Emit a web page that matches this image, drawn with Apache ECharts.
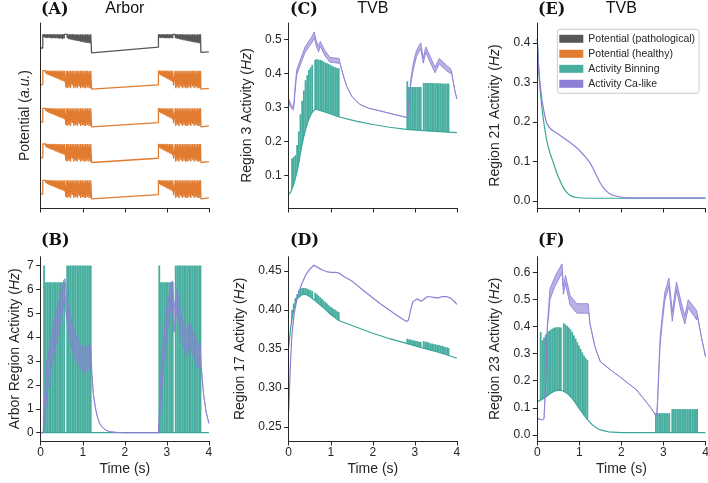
<!DOCTYPE html>
<html>
<head>
<meta charset="utf-8">
<script src="https://cdn.jsdelivr.net/npm/echarts@6/dist/echarts.min.js"></script>
<style>
  html, body { margin: 0; padding: 0; background: #fff; }
  #chart { width: 708px; height: 483px; }
</style>
</head>
<body>
<div id="chart"></div>
<script>
const GRAY = '#575757';
const ORANGE = '#e07b2f';
const TEAL = '#38a797';
const PURPLE = '#8c7fd5';
const INK = '#262626';
const SANS = '"Liberation Sans", Arial, sans-serif';
const SERIF = '"DejaVu Serif", "Liberation Serif", serif';

// spike times (s), shared by all panels
const SPK_1A = [0.08, 0.12, 0.16, 0.20, 0.24, 0.28, 0.32, 0.36, 0.40, 0.44, 0.48, 0.52, 0.56];
const SPK_1B = [0.63, 0.67, 0.71, 0.75, 0.79, 0.83, 0.87, 0.91, 0.95, 0.99, 1.03, 1.07, 1.11, 1.15, 1.19];
const SPK_2A = [2.82, 2.86, 2.90, 2.94, 2.98, 3.02, 3.06, 3.10, 3.14];
const SPK_2B = [3.21, 3.25, 3.29, 3.33, 3.37, 3.41, 3.45, 3.49, 3.53, 3.57, 3.61, 3.65, 3.69, 3.73, 3.77, 3.80];

// (A) potential traces, a.u. (1 = plateau top)
const POT_TOP = 1;
const PATH_PRE = [[0, 0.26], [0.05, 0.26], [0.05, 1]];
const PATH_D_1A = [0.85, 0.82, 0.8, 0.82, 0.8, 0.78, 0.8, 0.78, 0.8, 0.76, 0.78, 0.75, 0.78];
const PATH_D_1B = [0.8, 0.75, 0.72, 0.7, 0.68, 0.66, 0.64, 0.62, 0.6, 0.58, 0.56, 0.55, 0.53, 0.52, 0.5];
const PATH_MID = [[1.2, 1], [1.21, 0], [2.8, 0.31], [2.8, 1]];
const PATH_D_2A = [0.82, 0.8, 0.82, 0.8, 0.78, 0.8, 0.78, 0.8, 0.78];
const PATH_NOTCH = [[3.17, 1], [3.19, 1]];
const PATH_D_2B = [0.8, 0.76, 0.74, 0.72, 0.7, 0.68, 0.66, 0.64, 0.62, 0.6, 0.58, 0.56, 0.55, 0.53, 0.52, 0.5];
const PATH_POST = [[3.8, 1], [3.81, 0.02], [4, 0.05]];

const HEAL_PRE = [[0, 0.25], [0.05, 0.25], [0.05, 1]];
const HEAL_D_1A = [0.9, 0.85, 0.8, 0.76, 0.72, 0.68, 0.64, 0.6, 0.56, 0.52, 0.48, 0.45, 0.42];
const HEAL_GAP = [[0.59, 1], [0.6, 0.1], [0.61, 1]];
const HEAL_D_1B = [0.05, 0.1, 0.05, 0.2, 0.05, 0.1, 0.05, 0.15, 0.05, 0.1, 0.05, 0.05, 0.1, 0.05, 0.05];
const HEAL_MID = [[1.2, 1], [1.21, 0], [2.8, 0.23], [2.8, 1]];
const HEAL_D_2A = [0.8, 0.75, 0.7, 0.65, 0.6, 0.55, 0.5, 0.45, 0.4];
const HEAL_NOTCH = [[3.15, 1], [3.16, 0.2], [3.19, 0.2], [3.2, 1]];
const HEAL_D_2B = [0.05, 0.1, 0.05, 0.15, 0.05, 0.1, 0.05, 0.05, 0.1, 0.05, 0.15, 0.05, 0.1, 0.05, 0.05, 0.1];
const HEAL_POST = [[3.8, 1], [3.81, 0], [4, 0.05]];

// (B) arbor region activity
const B_TICKS = [0, 1, 2, 3, 4, 5, 6, 7];
const B_BASE = [[0, 0], [4, 0]];
const B_PK_1A = [7, 6.3, 6.3, 6.3, 6.3, 6.3, 6.3, 6.3, 6.3, 6.3, 6.3, 6.3, 6.3];
const B_PK_1B = [7, 7, 7, 7, 7, 7, 7, 7, 7, 7, 7, 7, 7, 7, 7];
const B_PK_2A = [7, 6.3, 6.3, 6.3, 6.3, 6.3, 6.3, 6.3, 6.3];
const B_PK_2B = [7, 7, 7, 7, 7, 7, 7, 7, 7, 7, 7, 7, 7, 7, 7, 7];
// [t, low, high]
const B_CA = [[0, 0, 0], [0.06, 0, 0], [0.07, 0.3, 0.8], [0.1, 0.6, 1.6], [0.14, 1.5, 2.9], [0.22, 2.4, 3.7],
  [0.34, 3.5, 4.8], [0.46, 4.5, 5.7], [0.55, 5.4, 6.4], [0.58, 5.7, 6.45], [0.6, 5.0, 6.0], [0.66, 4.2, 5.3],
  [0.78, 3.3, 4.3], [0.94, 2.7, 3.7], [1.05, 2.5, 3.5], [1.17, 2.8, 3.7], [1.2, 2.6, 3.4], [1.22, 2.4, 2.4],
  [1.25, 1.65, 1.65], [1.3, 1.05, 1.05], [1.35, 0.65, 0.65], [1.4, 0.4, 0.4], [1.45, 0.25, 0.25],
  [1.55, 0.1, 0.1], [1.65, 0.04, 0.04], [1.8, 0.01, 0.01], [2.0, 0, 0], [2.8, 0, 0], [2.82, 0.3, 0.8],
  [2.86, 1.4, 2.6], [2.92, 2.7, 3.9], [3.0, 4.1, 5.2], [3.1, 5.3, 6.3], [3.13, 5.5, 6.35], [3.17, 4.2, 5.2],
  [3.24, 5.2, 6.0], [3.3, 4.4, 5.3], [3.36, 3.8, 4.8], [3.48, 3.2, 4.2], [3.55, 3.7, 4.6], [3.62, 3.3, 4.2],
  [3.71, 2.8, 3.8], [3.79, 2.7, 3.7], [3.82, 2.7, 2.7], [3.87, 1.65, 1.65], [3.93, 0.9, 0.9], [4.0, 0.39, 0.39]];

// (C) region 3
const C_TICKS = [0.1, 0.2, 0.3, 0.4, 0.5];
const C_BASE = [[0, 0.045], [0.05, 0.052], [0.1, 0.068], [0.15, 0.088], [0.2, 0.112], [0.25, 0.145], [0.3, 0.18],
  [0.35, 0.21], [0.4, 0.235], [0.45, 0.256], [0.5, 0.272], [0.55, 0.284], [0.6, 0.292], [0.65, 0.295],
  [0.8, 0.289], [1.0, 0.281], [1.2, 0.272], [1.6, 0.26], [2.0, 0.25], [2.4, 0.242], [2.8, 0.236],
  [3.2, 0.232], [3.6, 0.229], [4.0, 0.226]];
const C_PK_1A = [0.15, 0.155, 0.16, 0.19, 0.23, 0.28, 0.32, 0.35, 0.38, 0.395, 0.41, 0.418, 0.425];
const C_PK_1B = [0.44, 0.442, 0.44, 0.44, 0.438, 0.435, 0.432, 0.43, 0.428, 0.425, 0.422, 0.42, 0.418, 0.416, 0.415];
const C_PK_2A = [0.377, 0.36, 0.36, 0.36, 0.36, 0.36, 0.36, 0.36, 0.36];
const C_PK_2B = [0.372, 0.372, 0.372, 0.372, 0.372, 0.372, 0.371, 0.371, 0.371, 0.371, 0.371, 0.37, 0.37, 0.37, 0.37, 0.37];
const C_CA = [[0, 0.315, 0.325], [0.05, 0.3, 0.31], [0.11, 0.293, 0.3], [0.13, 0.31, 0.32], [0.15, 0.345, 0.36],
  [0.19, 0.395, 0.41], [0.27, 0.423, 0.438], [0.39, 0.462, 0.478], [0.55, 0.49, 0.508], [0.61, 0.505, 0.522],
  [0.65, 0.482, 0.498], [0.71, 0.463, 0.478], [0.75, 0.48, 0.494], [0.86, 0.452, 0.467], [0.98, 0.433, 0.447],
  [1.2, 0.43, 0.444], [1.22, 0.43, 0.43], [1.26, 0.411, 0.411], [1.32, 0.385, 0.385], [1.38, 0.362, 0.362],
  [1.5, 0.333, 0.333], [1.69, 0.309, 0.309], [1.9, 0.298, 0.298], [2.17, 0.29, 0.29], [2.5, 0.28, 0.28],
  [2.83, 0.27, 0.27], [2.85, 0.3, 0.31], [2.9, 0.365, 0.38], [2.96, 0.41, 0.428], [3.04, 0.45, 0.468],
  [3.14, 0.473, 0.49], [3.2, 0.43, 0.445], [3.26, 0.462, 0.478], [3.4, 0.423, 0.44], [3.48, 0.402, 0.418],
  [3.58, 0.428, 0.444], [3.75, 0.408, 0.424], [3.85, 0.4, 0.414], [3.87, 0.406, 0.406], [3.95, 0.35, 0.35],
  [4.0, 0.325, 0.325]];

// (D) region 17
const D_TICKS = [0.25, 0.30, 0.35, 0.40, 0.45];
const D_BASE = [[0, 0.352], [0.05, 0.378], [0.1, 0.395], [0.15, 0.407], [0.2, 0.414], [0.3, 0.419], [0.4, 0.42],
  [0.5, 0.417], [0.6, 0.413], [0.8, 0.404], [1.0, 0.394], [1.2, 0.386], [1.6, 0.378], [2.0, 0.37],
  [2.4, 0.363], [2.8, 0.357], [3.2, 0.351], [3.6, 0.345], [4.0, 0.338]];
const D_PK_1A = [0.4, 0.408, 0.415, 0.42, 0.425, 0.427, 0.428, 0.428, 0.428, 0.427, 0.426, 0.425, 0.424];
const D_PK_1B = [0.422, 0.42, 0.418, 0.416, 0.414, 0.412, 0.41, 0.408, 0.406, 0.404, 0.403, 0.401, 0.4, 0.398, 0.397];
const D_PK_2A = [0.363, 0.362, 0.362, 0.361, 0.361, 0.36, 0.36, 0.359, 0.359];
const D_PK_2B = [0.36, 0.359, 0.359, 0.358, 0.357, 0.357, 0.356, 0.356, 0.355, 0.355, 0.354, 0.354, 0.353, 0.352, 0.352, 0.351];
const D_CA = [[0, 0.27], [0.04, 0.33], [0.08, 0.37], [0.13, 0.395], [0.2, 0.415], [0.3, 0.432], [0.4, 0.444],
  [0.5, 0.452], [0.6, 0.457], [0.7, 0.454], [0.8, 0.451], [0.9, 0.449], [1.0, 0.448], [1.1, 0.448],
  [1.2, 0.447], [1.3, 0.443], [1.5, 0.437], [1.77, 0.425], [2.17, 0.408], [2.57, 0.393], [2.8, 0.385],
  [2.85, 0.387], [2.9, 0.4], [2.95, 0.41], [3.05, 0.414], [3.15, 0.411], [3.2, 0.413], [3.3, 0.417],
  [3.45, 0.416], [3.55, 0.415], [3.65, 0.417], [3.75, 0.417], [3.85, 0.415], [3.95, 0.41], [4.0, 0.407]];

// (E) region 21
const E_TICKS = [0, 0.1, 0.2, 0.3, 0.4];
const E_BIN = [[0, 0.41], [0.06, 0.29], [0.14, 0.21], [0.22, 0.156], [0.3, 0.122], [0.38, 0.097], [0.46, 0.072],
  [0.54, 0.051], [0.62, 0.034], [0.7, 0.022], [0.8, 0.013], [0.94, 0.009], [1.2, 0.007], [4, 0.007]];
const E_CA = [[0, 0.41], [0.03, 0.34], [0.064, 0.299], [0.12, 0.25], [0.22, 0.198], [0.32, 0.182], [0.46, 0.172],
  [0.62, 0.16], [0.78, 0.148], [0.9, 0.138], [1.01, 0.127], [1.13, 0.113], [1.25, 0.097], [1.37, 0.073],
  [1.49, 0.047], [1.6, 0.03], [1.73, 0.018], [1.9, 0.012], [2.04, 0.009], [2.5, 0.008], [4, 0.008]];

// (F) region 23
const F_TICKS = [0, 0.1, 0.2, 0.3, 0.4, 0.5, 0.6];
const F_BASE = [[0, 0.122], [0.1, 0.13], [0.2, 0.14], [0.3, 0.152], [0.4, 0.161], [0.5, 0.165], [0.6, 0.163],
  [0.7, 0.155], [0.8, 0.14], [0.9, 0.12], [1.0, 0.097], [1.1, 0.075], [1.2, 0.055], [1.3, 0.038],
  [1.4, 0.026], [1.5, 0.018], [1.7, 0.011], [2.0, 0.008], [4, 0.008]];
const F_PK_1A = [0.38, 0.35, 0.36, 0.37, 0.378, 0.384, 0.389, 0.393, 0.396, 0.398, 0.398, 0.398, 0.397];
const F_PK_1B = [0.413, 0.408, 0.403, 0.397, 0.39, 0.38, 0.368, 0.356, 0.343, 0.33, 0.318, 0.305, 0.293, 0.284, 0.277];
const F_PK_2A = [0.08, 0.08, 0.08, 0.08, 0.08, 0.08, 0.08, 0.08, 0.08];
const F_PK_2B = [0.095, 0.095, 0.095, 0.095, 0.095, 0.095, 0.095, 0.095, 0.095, 0.095, 0.095, 0.095, 0.095, 0.095, 0.095, 0.095];
const F_CA = [[0, 0.06, 0.06], [0.12, 0.055, 0.055], [0.16, 0.06, 0.06], [0.2, 0.2, 0.2], [0.24, 0.4, 0.41],
  [0.27, 0.44, 0.47], [0.3, 0.5, 0.54], [0.42, 0.55, 0.585], [0.54, 0.585, 0.62], [0.59, 0.6, 0.632],
  [0.62, 0.52, 0.55], [0.67, 0.56, 0.59], [0.78, 0.48, 0.515], [0.94, 0.45, 0.485], [1.21, 0.45, 0.485],
  [1.23, 0.45, 0.45], [1.25, 0.413, 0.413], [1.37, 0.326, 0.326], [1.5, 0.27, 0.27], [1.8, 0.233, 0.233],
  [1.96, 0.215, 0.215], [2.36, 0.166, 0.166], [2.68, 0.104, 0.104], [2.84, 0.067, 0.067], [2.86, 0.12, 0.13],
  [2.92, 0.33, 0.36], [2.97, 0.41, 0.44], [3.03, 0.495, 0.525], [3.13, 0.55, 0.58], [3.21, 0.42, 0.455],
  [3.31, 0.535, 0.565], [3.43, 0.45, 0.485], [3.51, 0.41, 0.44], [3.59, 0.47, 0.5], [3.79, 0.425, 0.46],
  [3.81, 0.44, 0.44], [3.9, 0.363, 0.363], [4.0, 0.289, 0.289]];

// ---------- helpers ----------
const zip = (ts, vs) => ts.map((t, i) => [t, vs[i]]);
const spikesDown = (ts, ds) => ts.flatMap((t, i) => [[t, POT_TOP], [t, ds[i]], [t, POT_TOP]]);
const peaks = (a, b, c, d) => [...zip(SPK_1A, a), ...zip(SPK_1B, b), ...zip(SPK_2A, c), ...zip(SPK_2B, d)];

const pathTrace = [...PATH_PRE, ...spikesDown(SPK_1A, PATH_D_1A), ...spikesDown(SPK_1B, PATH_D_1B), ...PATH_MID,
  ...spikesDown(SPK_2A, PATH_D_2A), ...PATH_NOTCH, ...spikesDown(SPK_2B, PATH_D_2B), ...PATH_POST];
const healTrace = [...HEAL_PRE, ...spikesDown(SPK_1A, HEAL_D_1A), ...HEAL_GAP, ...spikesDown(SPK_1B, HEAL_D_1B), ...HEAL_MID,
  ...spikesDown(SPK_2A, HEAL_D_2A), ...HEAL_NOTCH, ...spikesDown(SPK_2B, HEAL_D_2B), ...HEAL_POST];

// layout (px)
const COL_X = [40.7, 288.7, 537.3];
const COL_W = 168.2;
const TOP_ROW = { top: 23, height: 185 };
const BOT_ROW = { top: 256.7, height: 184.3 };
const A_ROWS = [34.3, 70.7, 108.3, 144.0, 180.3]; // plateau tops
const A_SPAN = 18.5;

const grids = [];
const xAxes = [];
const yAxes = [];

function addGrid(rect) {
  grids.push(Object.assign({ containLabel: false, outerBoundsMode: 'none' }, rect));
  return grids.length - 1;
}

function timeAxis(gi, labels) {
  return {
    gridIndex: gi, type: 'value', min: 0, max: 4, interval: 1, z: 6,
    axisLine: { show: true, onZero: false, lineStyle: { color: INK, width: 1 } },
    axisTick: { show: true, length: 4.5, lineStyle: { color: INK, width: 1 } },
    axisLabel: { show: labels, fontSize: 12, color: INK, margin: 6, fontFamily: SANS },
    splitLine: { show: false },
    name: labels ? 'Time (s)' : '', nameLocation: 'middle', nameGap: 21,
    nameTextStyle: { fontSize: 14, color: INK, fontFamily: SANS },
  };
}

function valueAxis(gi, min, max, ticks, digits, name, gap) {
  return {
    gridIndex: gi, type: 'value', min, max, z: 6,
    axisLine: { show: true, onZero: false, lineStyle: { color: INK, width: 1 } },
    axisTick: { show: !!ticks, length: 4.5, customValues: ticks || [], lineStyle: { color: INK, width: 1 } },
    axisLabel: {
      show: !!ticks, customValues: ticks || [], fontSize: 12, color: INK, margin: 7, fontFamily: SANS,
      formatter: v => v.toFixed(digits),
    },
    splitLine: { show: false },
    name, nameLocation: 'middle', nameGap: gap,
    nameTextStyle: { fontSize: 14, color: INK, fontFamily: SANS, rich: { i: { fontSize: 14, fontStyle: 'italic', color: INK, fontFamily: SANS } } },
  };
}

const series = [];

// ---------- panel A ----------
const gA = addGrid({ left: COL_X[0], width: COL_W, ...TOP_ROW });
xAxes.push(timeAxis(gA, false));
yAxes.push(valueAxis(gA, 0, 1, null, 0, 'Potential ({i|a.u.})', 9));

A_ROWS.forEach((t, r) => {
  const gi = addGrid({ left: COL_X[0], width: COL_W, top: t - 0.05 * A_SPAN, height: 1.1 * A_SPAN });
  xAxes.push({ gridIndex: gi, type: 'value', min: 0, max: 4, show: false });
  yAxes.push({ gridIndex: gi, type: 'value', min: -0.05, max: 1.05, show: false });
  series.push({
    type: 'line', name: r === 0 ? 'Potential (pathological)' : 'Potential (healthy)',
    xAxisIndex: gi, yAxisIndex: gi, data: r === 0 ? pathTrace : healTrace,
    showSymbol: false, clip: false, z: 3,
    lineStyle: { color: r === 0 ? GRAY : ORANGE, width: 1.3 },
    itemStyle: { color: r === 0 ? GRAY : ORANGE },
  });
});

// ---------- activity panels ----------
function binning(gi, base, pk) {
  series.push({
    type: 'bar', name: 'Activity Binning', xAxisIndex: gi, yAxisIndex: gi,
    data: pk, barWidth: 1.8, z: 2, clip: true,
    itemStyle: { color: TEAL, opacity: 0.92 },
  });
  series.push({
    type: 'line', name: 'Activity Binning', xAxisIndex: gi, yAxisIndex: gi,
    data: base, showSymbol: false, z: 3, clip: true,
    lineStyle: { color: TEAL, width: 1.2 }, itemStyle: { color: TEAL },
    areaStyle: { color: '#ffffff', opacity: 1, origin: 'start' },
  });
}

function caBand(gi, pts) {
  series.push({
    type: 'custom', name: 'Activity Ca-like', xAxisIndex: gi, yAxisIndex: gi,
    data: pts, encode: { x: 0, y: [1, 2] }, z: 4, clip: true,
    itemStyle: { color: PURPLE },
    renderItem(params, api) {
      if (params.dataIndex !== 0) return null;
      const hi = pts.map(p => api.coord([p[0], p[2]]));
      const lo = pts.map(p => api.coord([p[0], p[1]])).reverse();
      return {
        type: 'polygon', shape: { points: hi.concat(lo) },
        style: { fill: PURPLE, stroke: PURPLE, lineWidth: 1, fillOpacity: 0.6, strokeOpacity: 0.85 },
      };
    },
  });
}

function caLine(gi, pts) {
  series.push({
    type: 'line', name: 'Activity Ca-like', xAxisIndex: gi, yAxisIndex: gi,
    data: pts, showSymbol: false, z: 4, lineStyle: { color: PURPLE, width: 1.2 }, itemStyle: { color: PURPLE },
  });
}

const gB = addGrid({ left: COL_X[0], width: COL_W, ...BOT_ROW });
xAxes.push(timeAxis(gB, true));
yAxes.push(valueAxis(gB, -0.35, 7.37, B_TICKS, 0, 'Arbor Region Activity ({i|Hz})', 19));
binning(gB, B_BASE, peaks(B_PK_1A, B_PK_1B, B_PK_2A, B_PK_2B));
caBand(gB, B_CA);

const gC = addGrid({ left: COL_X[1], width: COL_W, ...TOP_ROW });
xAxes.push(timeAxis(gC, false));
yAxes.push(valueAxis(gC, 0.005, 0.548, C_TICKS, 1, 'Region 3 Activity ({i|Hz})', 35));
binning(gC, C_BASE, peaks(C_PK_1A, C_PK_1B, C_PK_2A, C_PK_2B));
caBand(gC, C_CA);

const gD = addGrid({ left: COL_X[1], width: COL_W, ...BOT_ROW });
xAxes.push(timeAxis(gD, true));
yAxes.push(valueAxis(gD, 0.232, 0.468, D_TICKS, 2, 'Region 17 Activity ({i|Hz})', 42));
binning(gD, D_BASE, peaks(D_PK_1A, D_PK_1B, D_PK_2A, D_PK_2B));
caLine(gD, D_CA);

const gE = addGrid({ left: COL_X[2], width: COL_W, ...TOP_ROW });
xAxes.push(timeAxis(gE, false));
yAxes.push(valueAxis(gE, -0.0176, 0.45, E_TICKS, 1, 'Region 21 Activity ({i|Hz})', 35));
series.push({
  type: 'line', name: 'Activity Binning', xAxisIndex: gE, yAxisIndex: gE, data: E_BIN,
  showSymbol: false, smooth: 0.3, z: 3, lineStyle: { color: TEAL, width: 1.2 }, itemStyle: { color: TEAL },
});
series.push({
  type: 'line', name: 'Activity Ca-like', xAxisIndex: gE, yAxisIndex: gE, data: E_CA,
  showSymbol: false, smooth: 0.3, z: 4, lineStyle: { color: PURPLE, width: 1.2 }, itemStyle: { color: PURPLE },
});

const gF = addGrid({ left: COL_X[2], width: COL_W, ...BOT_ROW });
xAxes.push(timeAxis(gF, true));
yAxes.push(valueAxis(gF, -0.023, 0.659, F_TICKS, 1, 'Region 23 Activity ({i|Hz})', 35));
binning(gF, F_BASE, peaks(F_PK_1A, F_PK_1B, F_PK_2A, F_PK_2B));
caBand(gF, F_CA);

// ---------- titles ----------
const panelTitle = (text, left, top) => ({
  text, left, top, padding: 0,
  textStyle: { fontFamily: SERIF, fontWeight: 'bold', fontSize: 16, color: '#111' },
});
const centerTitle = (text, center, top) => ({
  text, left: center, top, padding: 0, textAlign: 'center',
  textStyle: { fontFamily: SANS, fontWeight: 'normal', fontSize: 16, color: '#111' },
});
const titles = [
  panelTitle('(A)', 41, 2), centerTitle('Arbor', COL_X[0] + COL_W / 2, 1),
  panelTitle('(B)', 41, 233),
  panelTitle('(C)', 290, 2), centerTitle('TVB', COL_X[1] + COL_W / 2, 1),
  panelTitle('(D)', 290, 233),
  panelTitle('(E)', 538, 2), centerTitle('TVB', COL_X[2] + COL_W / 2, 1),
  panelTitle('(F)', 538, 233),
];

const chart = echarts.init(document.getElementById('chart'), null, { renderer: 'canvas' });
chart.setOption({
  animation: false,
  backgroundColor: '#ffffff',
  title: titles,
  legend: {
    orient: 'vertical', left: 557.3, top: 29.3, padding: [4, 4, 4, 2],
    itemWidth: 24, itemHeight: 8, itemGap: 4, icon: 'rect', selectedMode: false,
    backgroundColor: '#ffffff', borderColor: '#cccccc', borderWidth: 1, borderRadius: 3,
    textStyle: { fontSize: 10.5, color: INK, fontFamily: SANS },
    data: [
      { name: 'Potential (pathological)', itemStyle: { color: GRAY } },
      { name: 'Potential (healthy)', itemStyle: { color: ORANGE } },
      { name: 'Activity Binning', itemStyle: { color: TEAL } },
      { name: 'Activity Ca-like', itemStyle: { color: PURPLE } },
    ],
  },
  grid: grids,
  xAxis: xAxes,
  yAxis: yAxes,
  series,
});
</script>
</body>
</html>
